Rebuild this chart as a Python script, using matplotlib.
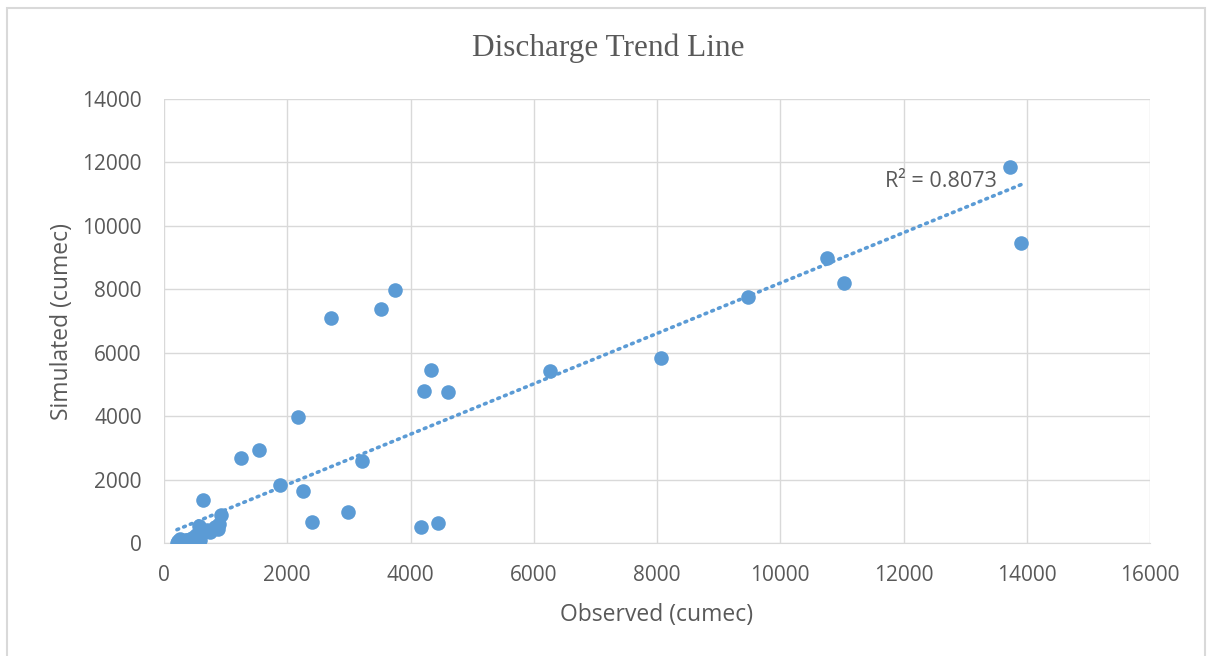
import numpy as np
import matplotlib.pyplot as plt
from matplotlib.patches import Rectangle

# observed vs simulated discharge (cumec)
observed = [210, 230, 260, 280, 300, 330, 350, 380, 400, 430, 450, 480, 490,
            520, 550, 560, 580, 620, 640, 700, 750, 820, 870, 900, 930, 1250,
            1540, 1880, 2175, 2255, 2400, 2710, 2985, 3215, 3520, 3750, 4170,
            4220, 4335, 4445, 4610, 6265, 8065, 9480, 10760, 11035, 13730,
            13910]
simulated = [10, 50, 120, 60, 20, 40, 80, 110, 30, 20, 150, 60, 90,
             250, 30, 550, 100, 300, 1360, 400, 350, 500, 450, 600, 870, 2680,
             2930, 1830, 3970, 1640, 660, 7090, 980, 2585, 7380, 7980, 500,
             4790, 5455, 630, 4760, 5420, 5830, 7760, 8990, 8200, 11850,
             9460]
r2_label = "R\u00b2 = 0.8073"
x_ticks = np.arange(0, 16001, 2000)
y_ticks = np.arange(0, 14001, 2000)

blue = '#5B9BD5'
grey = '#595959'


def main():
    fig = plt.figure(figsize=(12.08, 6.56), dpi=100)
    ax = fig.add_axes([164 / 1208, 1 - 543 / 656, 986 / 1208, 444 / 656])

    x = np.array(observed, dtype=float)
    y = np.array(simulated, dtype=float)
    ax.scatter(x, y, s=110, color=blue, zorder=3, linewidths=0)

    slope, icept = np.polyfit(x, y, 1)
    xs = np.array([x.min(), x.max()])
    ax.plot(xs, slope * xs + icept, color=blue, lw=2.6,
            linestyle=(0, (0.5, 1.5)), dash_capstyle='round', zorder=2)
    ax.text(11700, 11400, r2_label, fontsize=15.5, color=grey,
            ha='left', va='center', family='Open Sans', zorder=4)

    ax.set_xlim(0, 16000)
    ax.set_ylim(0, 14000)
    ax.set_xticks(x_ticks)
    ax.set_yticks(y_ticks)
    ax.grid(True, color='#D9D9D9', lw=1)
    ax.set_axisbelow(True)
    for s in ['top', 'right', 'left']:
        ax.spines[s].set_visible(False)
    ax.spines['bottom'].set_color('#D9D9D9')
    ax.tick_params(length=0, labelsize=15, colors=grey)
    ax.tick_params(axis='x', pad=16)
    ax.tick_params(axis='y', pad=16)
    for lab in ax.get_xticklabels() + ax.get_yticklabels():
        lab.set_family('Open Sans')

    ax.set_xlabel('Observed (cumec)', fontsize=16.5, color=grey,
                  family='Open Sans', labelpad=12)
    ax.set_ylabel('Simulated (cumec)', fontsize=16.5, color=grey,
                  family='Open Sans', labelpad=6)
    fig.text(608 / 1208, 1 - 48 / 656, 'Discharge Trend Line', fontsize=22.5,
             color=grey, family='Liberation Serif', ha='center', va='center')

    fig.patches.append(Rectangle((7 / 1208, -0.1), 1198 / 1208, 1.1 - 8 / 656,
                                 transform=fig.transFigure, fill=False,
                                 edgecolor='#D9D9D9', lw=1.5))
    fig.savefig('out.png', dpi=100, facecolor='white')


if __name__ == '__main__':
    main()
